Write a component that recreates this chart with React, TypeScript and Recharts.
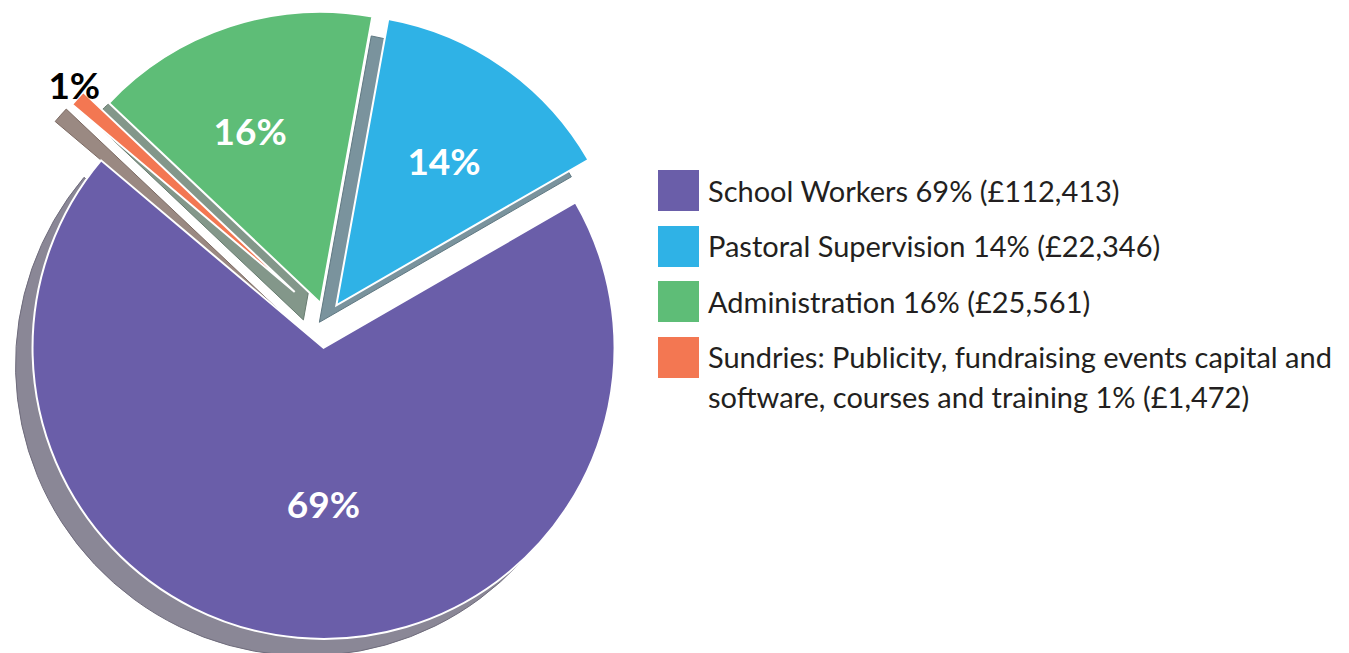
import { Legend, Pie, PieChart, Sector } from "recharts";

// budget split, legend order
const categories = [
  "School Workers",
  "Pastoral Supervision",
  "Administration",
  "Sundries: Publicity, fundraising events capital and software, courses and training",
];
const amounts = [112413, 22346, 25561, 1472];
const percentLabels = ["69%", "14%", "16%", "1%"];
const amountLabels = ["£112,413", "£22,346", "£25,561", "£1,472"];

// clockwise order of the slices around the pie
const sliceOrder = [0, 3, 2, 1];

const colors = ["#6a5ea9", "#2fb2e6", "#5ebd77", "#f37752"];
const shadowColors = ["#8a8796", "#7a939d", "#83978a", "#9a8982"];
const shadowEdges = ["#6f6c7c", "#5f7882", "#687c70", "#7c6b64"];
const explode = [28, 18, 18, 42];
const labelRadius = [0.535, 0.62, 0.64, 1.04];
const labelAngleShift = [5, -1.5, 4, -1.5];

const SHADOW_DX = -17;
const SHADOW_DY = 17;
const FONT = "Lato, 'Open Sans', sans-serif";

const pieData = sliceOrder.map((i) => ({
  name: categories[i],
  value: amounts[i],
  idx: i,
}));

function shift(props: any) {
  const i = props.idx ?? props.payload?.idx ?? 0;
  const rad = (props.midAngle * Math.PI) / 180;
  return {
    i,
    x: props.cx + explode[i] * Math.cos(rad),
    y: props.cy - explode[i] * Math.sin(rad),
  };
}

function ShadowSlice(props: any) {
  const { i, x, y } = shift(props);
  return (
    <Sector
      {...props}
      cx={x + SHADOW_DX}
      cy={y + SHADOW_DY}
      fill={shadowColors[i]}
      stroke={shadowEdges[i]}
      strokeWidth={1}
    />
  );
}

function MainSlice(props: any) {
  const { i, x, y } = shift(props);
  return (
    <Sector {...props} cx={x} cy={y} fill={colors[i]} stroke="#fff" strokeWidth={2} />
  );
}

function SliceLabel(props: any) {
  const { i, x, y } = shift(props);
  const rad = ((props.midAngle + labelAngleShift[i]) * Math.PI) / 180;
  const r = props.outerRadius * labelRadius[i];
  const outside = labelRadius[i] > 1;
  return (
    <text
      x={x + r * Math.cos(rad)}
      y={y - r * Math.sin(rad)}
      textAnchor="middle"
      dominantBaseline="central"
      fill={outside ? "#000" : "#fff"}
      fontFamily={FONT}
      fontWeight={700}
      fontSize={37}
    >
      {percentLabels[i]}
    </text>
  );
}

function LegendList() {
  return (
    <div style={{ fontFamily: FONT, fontSize: 29, color: "#231f20" }}>
      {categories.map((c, i) => (
        <div key={c} style={{ display: "flex", alignItems: "flex-start", marginBottom: 14.5 }}>
          <div style={{ width: 41, height: 41, background: colors[i], flexShrink: 0 }} />
          <div style={{ marginLeft: 9, lineHeight: "40px", marginTop: 0.5, width: 680 }}>
            {`${c} ${percentLabels[i]} (${amountLabels[i]})`}
          </div>
        </div>
      ))}
    </div>
  );
}

export default function App() {
  return (
    <div style={{ width: 1349, height: 653, background: "#fff", overflow: "hidden" }}>
      <style>{"body{margin:0}"}</style>
      <PieChart width={1349} height={653} margin={{ top: 0, right: 0, bottom: 0, left: 0 }}>
        <Pie
          data={pieData}
          dataKey="value"
          cx={326}
          cy={320}
          outerRadius={291}
          startAngle={30}
          endAngle={-330}
          stroke="none"
          shape={ShadowSlice}
          isAnimationActive={false}
        />
        <Pie
          data={pieData}
          dataKey="value"
          cx={326}
          cy={320}
          outerRadius={291}
          startAngle={30}
          endAngle={-330}
          shape={MainSlice}
          label={SliceLabel}
          labelLine={false}
          isAnimationActive={false}
        />
        <Legend
          content={() => <LegendList />}
          wrapperStyle={{ position: "absolute", left: 658, top: 170, width: 691, bottom: "auto" }}
        />
      </PieChart>
    </div>
  );
}
